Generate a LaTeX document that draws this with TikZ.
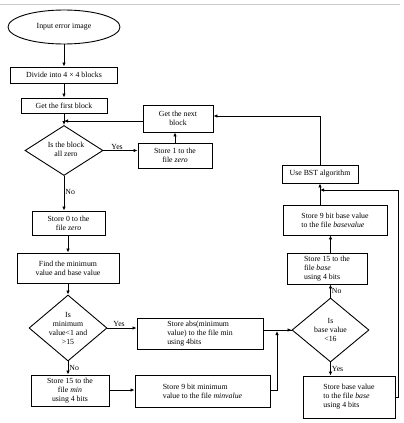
\documentclass[tikz,border=0pt]{standalone}
\usepackage{fontspec}
\setmainfont{Liberation Serif}
\usetikzlibrary{shapes.geometric,arrows.meta}
\tikzset{
  box/.style={draw,line width=0.9pt,rectangle,inner sep=0pt,font=\fontsize{7.8}{9}\selectfont,align=center},
  lbox/.style={box,align=left},
  dia/.style={draw,line width=0.9pt,diamond,inner sep=0pt},
  dtext/.style={font=\fontsize{7.8}{9}\selectfont,align=center,inner sep=0pt},
  lab/.style={font=\fontsize{7.8}{9}\selectfont,inner sep=1pt},
  arr/.style={line width=0.8pt,-{Latex[length=4pt,width=3.5pt]}},
  ln/.style={line width=0.8pt}
}
\begin{document}
\begin{tikzpicture}[x=1pt,y=-1pt]
\useasboundingbox (0,0) rectangle (404,423);
\draw[gray!40,line width=0.8pt] (0,4) -- (400,4);
% nodes
\node[draw,line width=0.9pt,ellipse,minimum width=112pt,minimum height=34pt,inner sep=0pt,font=\fontsize{7.8}{9}\selectfont] (ell) at (64,27) {Input error image};
\node[box,minimum width=107pt,minimum height=16pt] (divide) at (64,75) {Divide into 4 × 4 blocks};
\node[box,minimum width=86pt,minimum height=15pt] (first) at (64,105.5) {Get the first block};
\node[box,minimum width=70pt,minimum height=27pt] (next) at (178,118.5) {Get the next\\block};
\node[dia,minimum width=78pt,minimum height=50pt] (d1) at (64,150.5) {};
\node[dtext] (d1t) at (66,149) {Is the block\\all zero};
\node[box,minimum width=74pt,minimum height=25pt] (store1) at (175,155.5) {Store 1 to the\\file \textit{zero}};
\node[box,minimum width=73pt,minimum height=24pt] (store0) at (68.5,223) {Store 0 to the\\file \textit{zero}};
\node[box,minimum width=102pt,minimum height=30pt] (find) at (68,268) {Find the minimum\\value and base value};
\node[dia,minimum width=78pt,minimum height=66pt] (d2) at (68,328) {};
\node[dtext] (d2t) at (68,328) {Is\\minimum\\value<1 and\\>15};
\node[lbox,minimum width=126pt,minimum height=31pt] (abs) at (200,333.5) {Store abs(minimum\\value) to the file min\\using 4bits};
\node[box,minimum width=78pt,minimum height=31pt] (min15) at (70,390.5) {Store 15 to the\\file \textit{min}\\using 4 bits};
\node[lbox,minimum width=135pt,minimum height=32pt] (min9) at (202.5,391) {Store 9 bit minimum\\value to the file \textit{minvalue}};
\node[dia,minimum width=77pt,minimum height=64pt] (d3) at (330.5,330) {};
\node[dtext] (d3t) at (330.5,330) {Is\\base value\\<16};
\node[lbox,minimum width=92pt,minimum height=42pt] (bstore) at (349,397) {Store base value\\to the file \textit{base}\\using 4 bits};
\node[lbox,minimum width=80pt,minimum height=31pt] (base15) at (327,268.5) {Store 15 to the\\file \textit{base}\\using 4 bits};
\node[lbox,minimum width=104pt,minimum height=30pt] (base9) at (335,220) {Store 9 bit base value\\to the file \textit{basevalue}};
\node[box,minimum width=76pt,minimum height=18pt] (bst) at (320,174) {Use BST algorithm};
% coordinates
\coordinate (j1) at (64,121);
\coordinate (j2) at (277,331);
\coordinate (j3) at (320,190);
\coordinate (r1) at (398,397);
\coordinate (r2) at (398,190);
\coordinate (m1) at (277,390);
% connectors
\draw[arr] (ell) -- (divide);
\draw[arr] (divide) -- (first);
\draw[arr] (first) -- (d1.north);
\draw[arr] (next.west |- j1) -- (j1);
\draw[arr] (d1.east) -- node[lab,above,pos=0.4] {Yes} (store1.west |- d1.east);
\draw[arr] (store1.north) -- (store1.north |- next.south);
\draw[arr] (d1.south) -- node[lab,right,pos=0.45] {No} (d1.south |- store0.north);
\draw[arr] (store0.south -| find.north) -- (find.north);
\draw[arr] (find.south) -- (d2.north);
\draw[arr] (d2.east) -- node[lab,above,pos=0.4] {Yes} (abs.west |- d2.east);
\draw[arr] (d2.south) -- node[lab,right] {No} (d2.south |- min15.north);
\draw[arr] (min15.east |- m1) -- (min9.west |- m1);
\draw[ln] (abs.east |- d3.west) -- (d3.west);
\draw[arr] (d3.west) ++(-12,0) -- (d3.west);
\draw[arr] (min9.east |- m1) -- (m1) -- (j2);
\draw[arr] (d3.north) -- node[lab,right] {No} (d3.north |- base15.south);
\draw[arr] (d3.south) -- node[lab,right] {Yes} (d3.south |- bstore.north);
\draw[arr] (d3.north |- base15.north) -- (d3.north |- base9.south);
\draw[arr] (bst.south |- base9.north) -- (bst.south);
\draw[arr] (bstore.east |- r1) -- (r1) -- (r2) -- (j3);
\draw[arr] (bst.north) -- (bst.north |- 0,116) -- (next.east |- 0,116);
\end{tikzpicture}
\end{document}
